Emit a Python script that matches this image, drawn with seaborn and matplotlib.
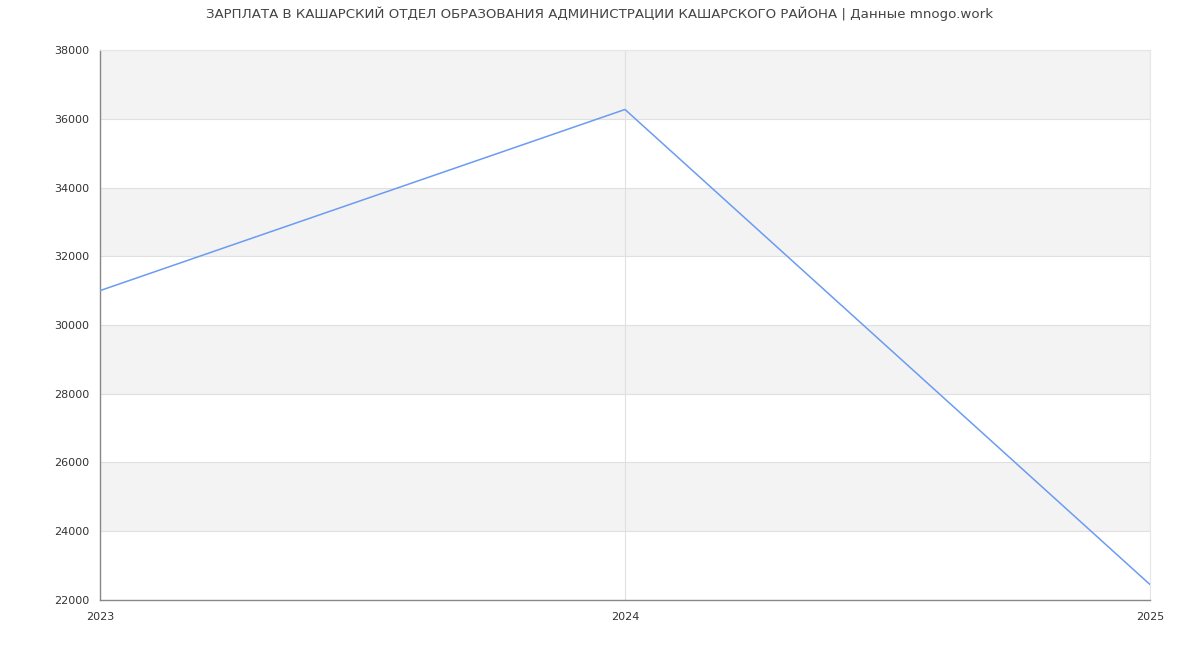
import matplotlib
matplotlib.use("Agg")
import matplotlib.pyplot as plt
import pandas as pd
import seaborn as sns

TITLE = "ЗАРПЛАТА В КАШАРСКИЙ ОТДЕЛ ОБРАЗОВАНИЯ АДМИНИСТРАЦИИ КАШАРСКОГО РАЙОНА | Данные mnogo.work"
years = [2023, 2024, 2025]
salary = [31000, 36270, 22450]
y_ticks = [22000, 24000, 26000, 28000, 30000, 32000, 34000, 36000, 38000]


def main() -> None:
    sns.set_theme(style="white")
    plt.rcParams["font.family"] = ["DejaVu Sans"]

    df = pd.DataFrame({"year": years, "salary": salary})

    fig, ax = plt.subplots(figsize=(12, 6.5), dpi=100)
    fig.subplots_adjust(left=100 / 1200, right=1150 / 1200, top=1 - 50 / 650, bottom=1 - 600 / 650)

    # alternating grey bands
    for lo, hi in zip(y_ticks[:-1], y_ticks[1:]):
        if (lo // 2000) % 2 == 0:
            ax.axhspan(lo, hi, color="#f3f3f3", zorder=0, lw=0)

    sns.lineplot(data=df, x="year", y="salary", ax=ax, color="#6b9bf2", linewidth=1.1, zorder=3)

    ax.set_xlim(2023, 2025)
    ax.set_ylim(22000, 38000)
    ax.set_xticks(years)
    ax.set_yticks(y_ticks)
    ax.set_xlabel("")
    ax.set_ylabel("")
    ax.grid(True, color="#e0e0e0", linewidth=0.8, zorder=1)
    ax.set_axisbelow(True)

    for side in ["top", "right"]:
        ax.spines[side].set_color("#e6e6e6")
        ax.spines[side].set_linewidth(0.8)
    for side in ["left", "bottom"]:
        ax.spines[side].set_color("#888888")
        ax.spines[side].set_linewidth(1.0)

    ax.tick_params(axis="y", length=5, width=0.8, color="#888888", labelsize=8, labelcolor="#333333", pad=3)
    ax.tick_params(axis="x", length=0, labelsize=8, labelcolor="#333333", pad=9)

    fig.suptitle(TITLE, fontsize=9.6, color="#444444", y=1 - 14 / 650, va="center")

    fig.savefig("out.png", dpi=100)
    plt.close(fig)


if __name__ == "__main__":
    main()
